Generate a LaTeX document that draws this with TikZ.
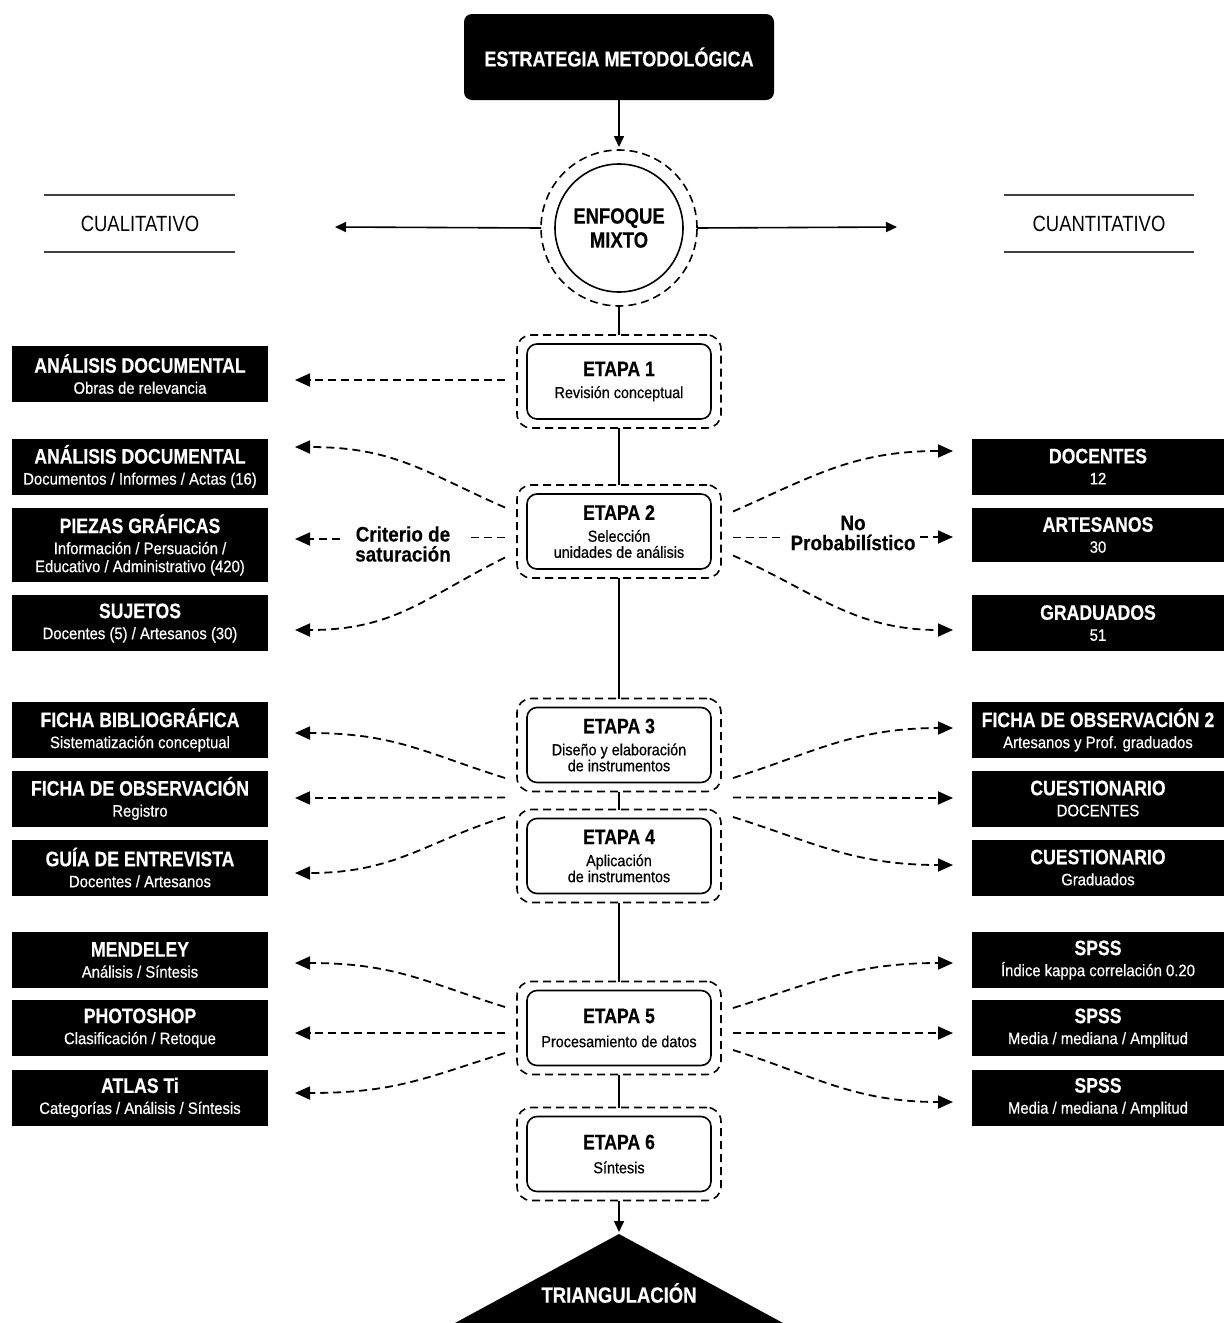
\documentclass[tikz,border=0pt]{standalone}
\usepackage{fontspec}
\setmainfont{Liberation Sans}
\newfontfamily\cond{Liberation Sans}[FakeStretch=0.84, BoldFeatures={FakeBold=0.4}]
\newfontfamily\semicond{Liberation Sans}[FakeStretch=0.9, BoldFeatures={FakeBold=0.3}]
\newfontfamily\medcond{Liberation Sans}[FakeStretch=0.9, FakeBold=0.6]
\usetikzlibrary{arrows.meta,calc}
\newcommand\ttl{\cond\bfseries\fontsize{21}{23}\selectfont}
\newcommand\subt{\medcond\fontsize{16.5}{18}\selectfont}
\newcommand\etsub{\medcond\fontsize{16}{16}\selectfont}
\begin{document}
\begin{tikzpicture}[x=1pt,y=-1pt,
  every node/.style={inner sep=0pt, outer sep=0pt, align=center},
  blk/.style={fill=black, text=white, minimum width=256pt, minimum height=56pt, font=\subt},
  blkr/.style={blk, minimum width=252pt},
  etin/.style={draw, line width=1.6pt, rounded corners=10pt, minimum width=184pt, minimum height=75pt, font=\etsub},
  etout/.style={draw, line width=1.6pt, dash pattern=on 8pt off 5pt, rounded corners=14pt, minimum width=204pt, minimum height=93pt},
  dsh/.style={line width=1.8pt, dash pattern=on 8pt off 5pt, -{Triangle[length=15pt,width=13pt]}},
  dshn/.style={line width=1.8pt, dash pattern=on 8pt off 5pt},
  sol/.style={line width=1.6pt},
  soltip/.style={line width=1.6pt, -{Triangle[length=11pt,width=10pt]}},
  lbl/.style={font=\semicond\bfseries\fontsize{21}{20}\selectfont},
  side/.style={font=\cond\fontsize{22}{24}\selectfont}
]
\fill[white] (0,0) rectangle (1224,1323);
\useasboundingbox (0,0) rectangle (1224,1323);

% top
\node[fill=black, text=white, rounded corners=8pt, minimum width=310pt, minimum height=86pt, font=\cond\bfseries\fontsize{21.5}{23}\selectfont] (top) at (619,57) {ESTRATEGIA METODOLÓGICA};

% circle
\node[circle, draw, line width=1.6pt, dash pattern=on 8pt off 5pt, minimum size=156pt] (circo) at (619,228) {};
\node[circle, draw, line width=1.6pt, minimum size=128pt, font=\cond\bfseries\fontsize{22}{24}\selectfont] (circ) at (619,228) {ENFOQUE\\MIXTO};
\draw[soltip, shorten >=3pt] (top.south) -- (circo.north);

% sides
\node[side] (cual) at (140,224) {CUALITATIVO};
\node[side] (cuan) at (1099,224) {CUANTITATIVO};
\draw[sol, black!75] (44,195) -- (235,195) (44,252) -- (235,252);
\draw[sol, black!75] (1004,195) -- (1194,195) (1004,252) -- (1194,252);
\coordinate (qlend) at (335,227);
\coordinate (qnend) at (897,227);
\draw[soltip] (circo.west) -- (qlend);
\draw[soltip] (circo.east) -- (qnend);

% etapas
\node[etout] (e1o) at (619,381.5) {};
\node[etin] (e1) at (619,381.5) {{\ttl ETAPA 1}\\[6pt]Revisión conceptual};
\node[etout] (e2o) at (619,531.5) {};
\node[etin] (e2) at (619,531.5) {{\ttl ETAPA 2}\\[6pt]Selección\\unidades de análisis};
\node[etout] (e3o) at (619,745) {};
\node[etin] (e3) at (619,745) {{\ttl ETAPA 3}\\[6pt]Diseño y elaboración\\de instrumentos};
\node[etout] (e4o) at (619,856) {};
\node[etin] (e4) at (619,856) {{\ttl ETAPA 4}\\[6pt]Aplicación\\de instrumentos};
\node[etout] (e5o) at (619,1028) {};
\node[etin] (e5) at (619,1028) {{\ttl ETAPA 5}\\[8pt]Procesamiento de datos};
\node[etout] (e6o) at (619,1154) {};
\node[etin] (e6) at (619,1154) {{\ttl ETAPA 6}\\[8pt]Síntesis};

\draw[sol] (circo.south) -- (e1o.north);
\draw[sol] (e1o.south) -- (e2o.north);
\draw[sol] (e2o.south) -- (e3o.north);
\draw[sol] (e3o.south) -- (e4o.north);
\draw[sol] (e4o.south) -- (e5o.north);
\draw[sol] (e5o.south) -- (e6o.north);

% triangle
\coordinate (apex) at (619,1234);
\fill (apex) -- (455,1323) -- (783,1323) -- cycle;
\node[text=white, font=\cond\bfseries\fontsize{22}{24}\selectfont] (tri) at (619,1293) {TRIANGULACIÓN};
\draw[soltip, shorten >=2pt] (e6o.south) -- (apex);

% left boxes
\node[blk] (L1) at (140,374) {{\ttl ANÁLISIS DOCUMENTAL}\\[3pt]Obras de relevancia};
\node[blk] (L2) at (140,466.5) {{\ttl ANÁLISIS DOCUMENTAL}\\[3pt]Documentos / Informes / Actas (16)};
\node[blk, minimum height=74pt] (L3) at (140,545) {{\ttl PIEZAS GRÁFICAS}\\[3pt]Información / Persuación /\\Educativo / Administrativo (420)};
\node[blk] (L4) at (140,623) {{\ttl SUJETOS}\\[3pt]Docentes (5) / Artesanos (30)};
\node[blk] (L5) at (140,730) {{\ttl FICHA BIBLIOGRÁFICA}\\[3pt]Sistematización conceptual};
\node[blk] (L6) at (140,798.5) {{\ttl FICHA DE OBSERVACIÓN}\\[3pt]Registro};
\node[blk] (L7) at (140,867.5) {{\ttl GUÍA DE ENTREVISTA}\\[3pt]Docentes / Artesanos};
\node[blk] (L8) at (140,960) {{\ttl MENDELEY}\\[3pt]Análisis / Síntesis};
\node[blk] (L9) at (140,1028) {{\ttl PHOTOSHOP}\\[3pt]Clasificación / Retoque};
\node[blk] (L10) at (140,1097.5) {{\ttl ATLAS Ti}\\[3pt]Categorías / Análisis / Síntesis};

% right boxes
\node[blkr] (R1) at (1098,466.5) {{\ttl DOCENTES}\\[3pt]12};
\node[blkr, minimum height=54pt] (R2) at (1098,535) {{\ttl ARTESANOS}\\[3pt]30};
\node[blkr] (R3) at (1098,623) {{\ttl GRADUADOS}\\[3pt]51};
\node[blkr] (R4) at (1098,730) {{\ttl FICHA DE OBSERVACIÓN 2}\\[3pt]Artesanos y Prof. graduados};
\node[blkr] (R5) at (1098,798.5) {{\ttl CUESTIONARIO}\\[3pt]DOCENTES};
\node[blkr] (R6) at (1098,867.5) {{\ttl CUESTIONARIO}\\[3pt]Graduados};
\node[blkr] (R7) at (1098,960) {{\ttl SPSS}\\[3pt]Índice kappa correlación 0.20};
\node[blkr] (R8) at (1098,1028) {{\ttl SPSS}\\[3pt]Media / mediana / Amplitud};
\node[blkr] (R9) at (1098,1097.5) {{\ttl SPSS}\\[3pt]Media / mediana / Amplitud};

% labels
\node[lbl] (crit) at (403,544) {Criterio de\\saturación};
\node[lbl] (prob) at (853,533) {No\\Probabilístico};

% etapa 1
\draw[dsh] ($(e1o.west)+(-12,-1.5)$) -- ($(L1.east)+(27,6)$);
% etapa 2 left
\draw[dsh] ($(e2o.west)+(-12,-24)$) .. controls +(-80,-35) and +(100,0) .. ($(L2.east)+(27,-19.5)$);
\draw[dshn] ($(e2o.west)+(-12,6)$) -- ($(e2o.west)+(-47,6)$);
\draw[dsh] ($(L3.east)+(72,-6)$) -- ($(L3.east)+(27,-6)$);
\draw[dsh] ($(e2o.west)+(-12,26)$) .. controls +(-80,40) and +(100,0) .. ($(L4.east)+(27,7)$);
% etapa 2 right
\draw[dsh] ($(e2o.east)+(12,-20)$) .. controls +(80,-35) and +(-100,0) .. ($(R1.west)+(-19,-15.5)$);
\draw[dshn] ($(e2o.east)+(12,6)$) -- ($(e2o.east)+(64,6)$);
\draw[dsh] ($(R2.west)+(-52,2)$) -- ($(R2.west)+(-19,2)$);
\draw[dsh] ($(e2o.east)+(12,24)$) .. controls +(80,35) and +(-100,0) .. ($(R3.west)+(-19,7)$);
% etapa 3/4 left
\draw[dsh] ($(e3o.west)+(-12,33)$) .. controls +(-80,-25) and +(100,0) .. ($(L5.east)+(27,3)$);
\draw[dsh] ($(e4o.north west)+(-12,-12)$) -- ($(L6.east)+(27,-0.5)$);
\draw[dsh] ($(e4o.west)+(-12,-39)$) .. controls +(-80,25) and +(100,0) .. ($(L7.east)+(27,5.5)$);
% etapa 3/4 right
\draw[dsh] ($(e3o.east)+(12,33)$) .. controls +(80,-25) and +(-100,0) .. ($(R4.west)+(-19,-2)$);
\draw[dsh] ($(e4o.north east)+(12,-12)$) -- ($(R5.west)+(-19,-0.5)$);
\draw[dsh] ($(e4o.east)+(12,-39)$) .. controls +(80,25) and +(-100,0) .. ($(R6.west)+(-19,-2.5)$);
% etapa 5 left
\draw[dsh] ($(e5o.west)+(-12,-21)$) .. controls +(-80,-25) and +(100,0) .. ($(L8.east)+(27,3)$);
\draw[dsh] ($(e5o.west)+(-12,5)$) -- ($(L9.east)+(27,5)$);
\draw[dsh] ($(e5o.west)+(-12,25)$) .. controls +(-80,25) and +(100,0) .. ($(L10.east)+(27,-4.5)$);
% etapa 5 right
\draw[dsh] ($(e5o.east)+(12,-20)$) .. controls +(80,-25) and +(-100,0) .. ($(R7.west)+(-19,3)$);
\draw[dsh] ($(e5o.east)+(12,5)$) -- ($(R8.west)+(-19,5)$);
\draw[dsh] ($(e5o.east)+(12,22)$) .. controls +(80,25) and +(-100,0) .. ($(R9.west)+(-19,4.5)$);
\end{tikzpicture}
\end{document}
